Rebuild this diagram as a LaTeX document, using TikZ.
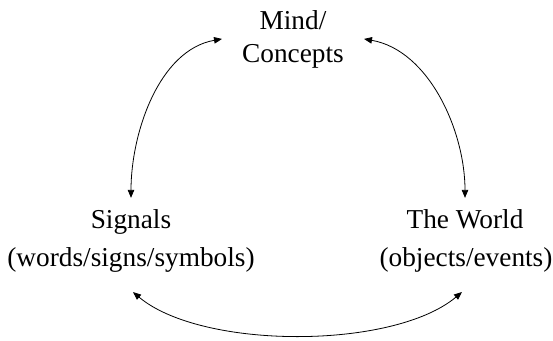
\documentclass[tikz,border=0pt]{standalone}
\usepackage{fontspec}
\setmainfont{Liberation Serif}
\usetikzlibrary{arrows.meta}
\begin{document}
\begin{tikzpicture}[x=1bp,y=1bp,
  label/.style={inner sep=0pt, font=\fontsize{27.3bp}{33bp}\selectfont, align=center},
  link/.style={line width=0.8bp, {Triangle[length=8bp,width=6.5bp]}-{Triangle[length=8bp,width=6.5bp]}}]
  \useasboundingbox (0,0) rectangle (553,340);
  % the three corners of the triangle
  \node[label, anchor=base] (mind) at (293,278) {Mind/\\Concepts};
  \node[label, anchor=base] (signals) at (131,112) {Signals};
  \node[label, anchor=base] (words) at (131,74) {(words/signs/symbols)};
  \node[label, anchor=base] (world) at (465,112) {The World};
  \node[label, anchor=base] (objects) at (466,74) {(objects/events)};
  % two-way links
  \draw[link] ([xshift=-20bp]mind.west) to[out=190,in=90,looseness=0.9] ([yshift=11bp]signals.north);
  \draw[link] ([xshift=20bp]mind.east) to[out=-10,in=90,looseness=0.9] ([yshift=11bp]world.north);
  \draw[link] ([xshift=2bp,yshift=-20bp]words.south) to[out=-40,in=220,looseness=0.7] ([xshift=-4bp,yshift=-20bp]objects.south);
\end{tikzpicture}
\end{document}
